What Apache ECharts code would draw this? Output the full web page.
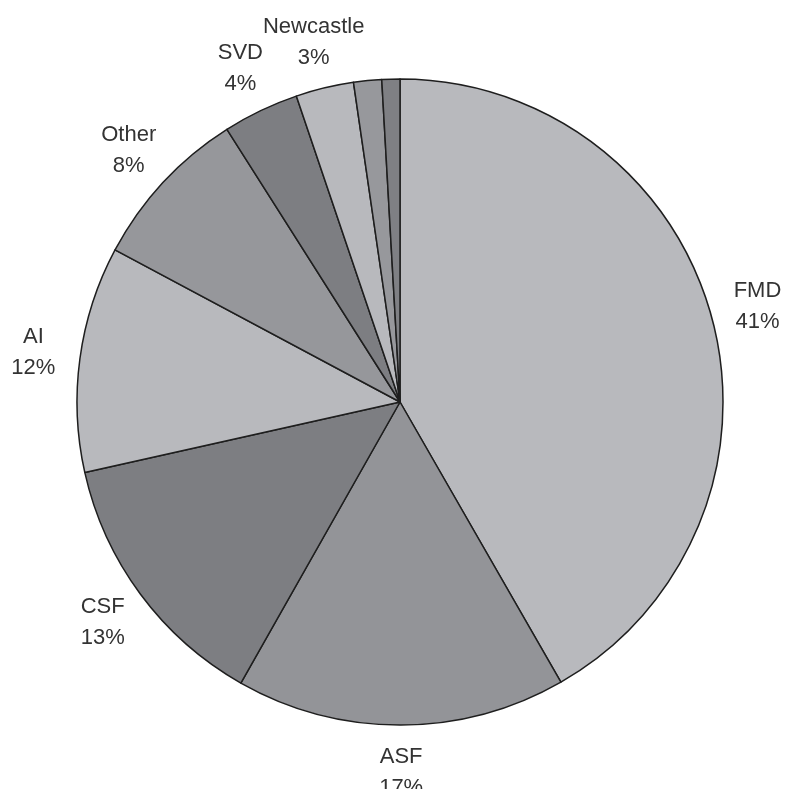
<!DOCTYPE html>
<html>
<head>
<meta charset="utf-8">
<script src="https://cdn.jsdelivr.net/npm/echarts@6/dist/echarts.min.js"></script>
<style>
html,body{margin:0;padding:0;background:#fff;}
#chart{width:785px;height:789px;}
</style>
</head>
<body>
<div id="chart"></div>
<script>
// Slices clockwise from 12 o'clock
const categories = ['FMD', 'ASF', 'CSF', 'AI', 'Other', 'SVD', 'Newcastle', 'Minor A', 'Minor B'];
const values = [41.7, 16.5, 13.3, 11.3, 8.2, 3.8, 2.9, 1.4, 0.9];
const labelPercents = ['41%', '17%', '13%', '12%', '8%', '4%', '3%', '', ''];
const colors = ['#b8b9bd', '#939498', '#7d7e82', '#b8b9bd', '#96979b', '#7d7e82', '#b8b9bd', '#97989c', '#7f8084'];

const chart = echarts.init(document.getElementById('chart'), null, {renderer: 'canvas'});

const pieData = categories.map((c, i) => ({
  name: c, value: values[i], itemStyle: {color: colors[i]}
}));
const labelData = categories.map((c, i) => ({
  name: c, value: values[i],
  label: {show: labelPercents[i] !== ''}
}));

chart.setOption({
  animation: false,
  backgroundColor: '#ffffff',
  series: [
    {
      type: 'pie',
      center: [400, 402],
      radius: [0, 323],
      startAngle: 90,
      clockwise: true,
      silent: true,
      data: pieData,
      label: {show: false},
      labelLine: {show: false},
      itemStyle: {borderColor: '#1e1e1e', borderWidth: 1.5}
    },
    {
      type: 'pie',
      center: [400, 402],
      radius: [300, 434],
      startAngle: 90,
      clockwise: true,
      silent: true,
      avoidLabelOverlap: false,
      data: labelData,
      itemStyle: {color: 'rgba(0,0,0,0)', borderWidth: 0},
      labelLine: {show: false},
      label: {
        position: 'inside',
        formatter: p => p.name + '\n' + labelPercents[p.dataIndex],
        fontFamily: 'Liberation Sans, Arial, sans-serif',
        fontSize: 22,
        lineHeight: 31,
        color: '#333333',
        align: 'center'
      }
    }
  ]
});
</script>
</body>
</html>
